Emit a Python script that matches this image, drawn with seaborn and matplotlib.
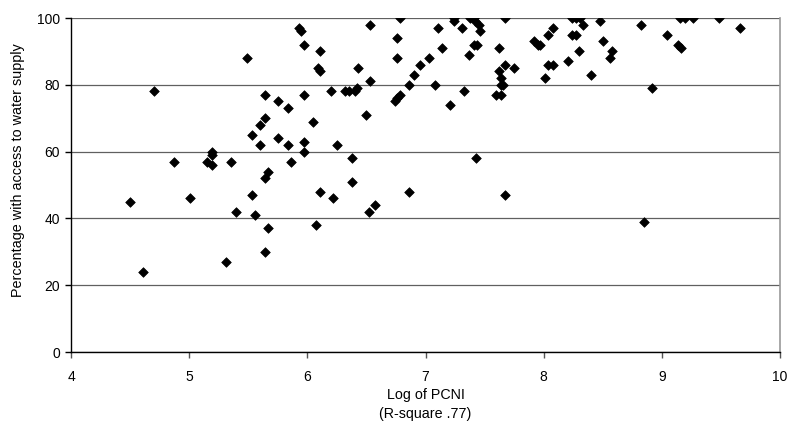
import matplotlib
matplotlib.use("Agg")
import matplotlib.pyplot as plt
import seaborn as sns
import pandas as pd

log_pcni = [
    5.93, 5.95, 5.97, 5.49, 4.70, 5.64, 5.75, 5.84, 5.64, 5.60, 5.53, 5.60, 5.75, 5.84,
    5.19, 5.19, 4.87, 5.15, 5.19, 5.35, 5.86, 5.67, 5.64,
    4.50, 5.01, 5.53, 5.40, 5.56, 5.67, 5.64, 5.31, 4.61,
    6.11, 6.09, 6.11, 6.43, 6.53, 6.53, 6.78, 6.76, 6.76, 5.97, 6.20, 6.32, 6.35, 6.40, 6.42,
    6.05, 6.50, 5.97, 5.97, 6.25, 6.38, 6.38, 6.74, 6.76, 6.78, 6.86, 6.90, 6.95, 7.03, 7.08,
    7.11, 7.14, 7.21, 7.24, 7.24, 7.31, 7.33, 7.37, 7.38, 7.41, 7.42, 7.45, 7.46, 7.41, 7.44,
    7.43, 7.67, 7.62, 7.67, 7.75, 7.62, 7.64, 7.64, 7.66, 7.60, 7.64, 7.67,
    6.11, 6.22, 6.52, 6.57, 6.86, 6.07,
    8.24, 8.27, 8.31, 8.08, 8.04, 8.33, 8.48, 8.24, 8.27, 7.92, 7.95, 7.97, 8.50, 8.30, 8.21,
    8.04, 8.08, 8.58, 8.56, 8.01, 8.40, 8.82, 8.92, 9.04, 9.14, 9.16, 9.15, 9.20, 9.26, 9.48,
    9.66, 8.85,
]
pct_water = [
    97, 96, 92, 88, 78, 77, 75, 73, 70, 68, 65, 62, 64, 62,
    60, 59, 57, 57, 56, 57, 57, 54, 52,
    45, 46, 47, 42, 41, 37, 30, 27, 24,
    90, 85, 84, 85, 98, 81, 100, 94, 88, 77, 78, 78, 78, 78, 79,
    69, 71, 63, 60, 62, 58, 51, 75, 76, 77, 80, 83, 86, 88, 80,
    97, 91, 74, 100, 99, 97, 78, 89, 100, 100, 99, 98, 96, 92, 92,
    58, 100, 91, 86, 85, 84, 82, 80, 80, 77, 77, 47,
    48, 46, 42, 44, 48, 38,
    100, 100, 100, 97, 95, 98, 99, 95, 95, 93, 92, 92, 93, 90, 87,
    86, 86, 90, 88, 82, 83, 98, 79, 95, 92, 91, 100, 100, 100, 100,
    97, 39,
]

df = pd.DataFrame({"x": log_pcni, "y": pct_water})

sns.set_style("white")
plt.rcParams["font.family"] = ["Liberation Sans", "DejaVu Sans"]
plt.rcParams["text.color"] = "black"
plt.rcParams["axes.labelcolor"] = "black"
plt.rcParams["xtick.labelcolor"] = "black"
plt.rcParams["ytick.labelcolor"] = "black"

fig = plt.figure(figsize=(7.88, 4.23), dpi=100)
ax = fig.add_axes([71 / 788, 1 - 352 / 423, (780 - 71) / 788, (352 - 18) / 423])

sns.scatterplot(data=df, x="x", y="y", ax=ax, marker="D", color="black",
                s=24, edgecolor="black", linewidth=0.5, zorder=3)

ax.set_xlim(4, 10)
ax.set_ylim(0, 100)
ax.set_xticks([4, 5, 6, 7, 8, 9, 10])
ax.set_yticks([0, 20, 40, 60, 80, 100])
ax.yaxis.grid(True, color="#606060", linewidth=0.9)
ax.xaxis.grid(False)
ax.set_axisbelow(True)

for side in ["left", "bottom"]:
    ax.spines[side].set_color("black")
    ax.spines[side].set_linewidth(1.0)
ax.spines["right"].set_color("#999999")
ax.spines["right"].set_linewidth(1.2)
ax.spines["top"].set_visible(False)

ax.tick_params(axis="x", direction="out", length=4, width=1, color="#555555",
               labelsize=10, labelcolor="black", bottom=True, pad=9)
ax.tick_params(axis="y", direction="out", length=4, width=1, color="black",
               labelsize=10, labelcolor="black", left=True, pad=4)

ax.set_xlabel("Log of PCNI\n(R-square .77)", fontsize=10.3, labelpad=3,
              linespacing=1.45, color="black")
ax.set_ylabel("Percentage with access to water supply", fontsize=10.4, color="black")
ax.yaxis.set_label_coords(-46 / 709, 0.545)

fig.savefig("out.png", dpi=100, facecolor="white")
